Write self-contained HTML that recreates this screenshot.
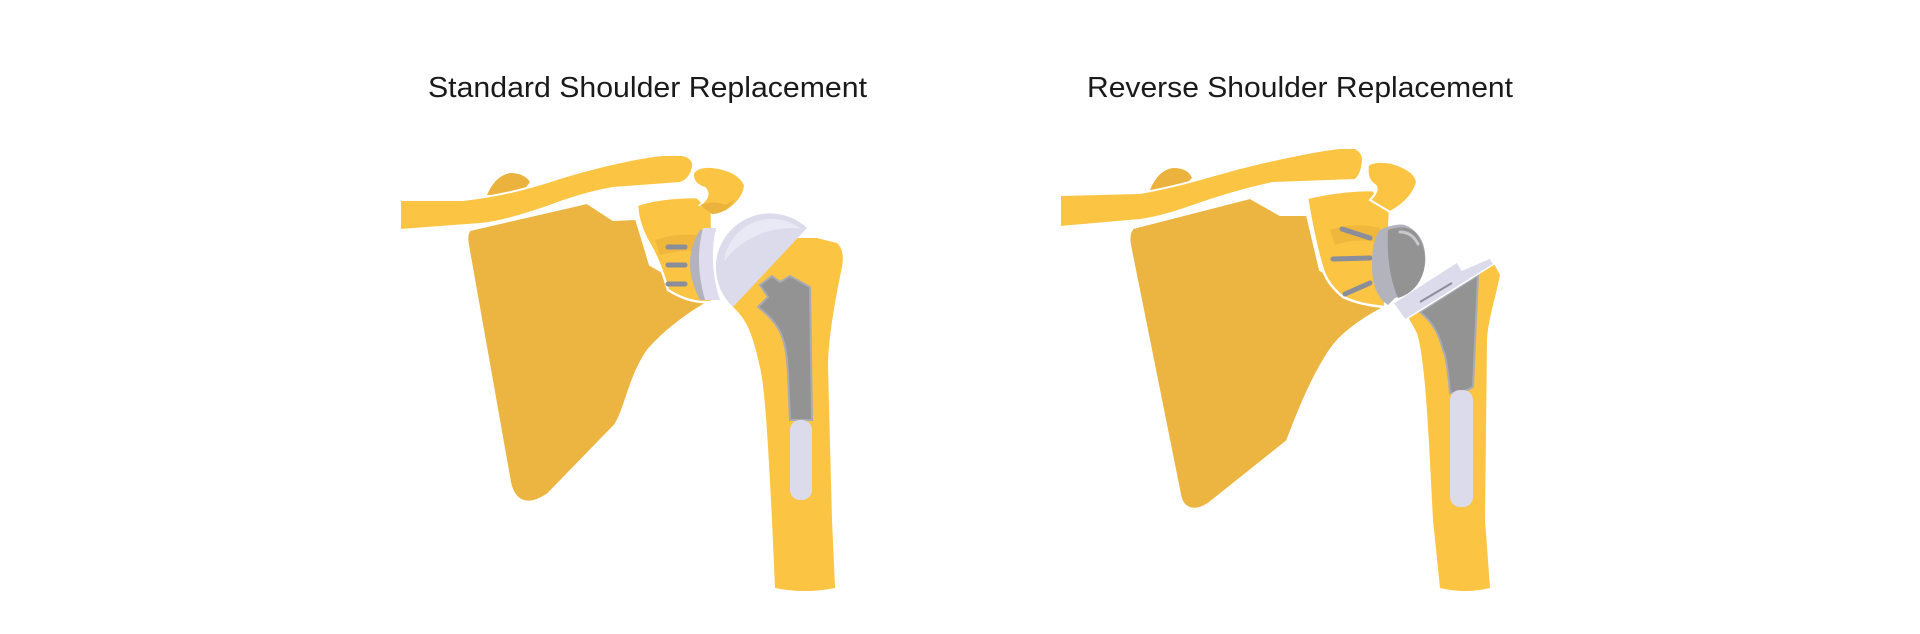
<!DOCTYPE html>
<html><head><meta charset="utf-8"><style>
html,body{margin:0;padding:0;background:#fff;}
svg{display:block;}
text{font-family:"Liberation Sans",sans-serif;fill:#1a1a1a;}
</style></head><body>
<svg width="1920" height="634" viewBox="0 0 1920 634" xmlns="http://www.w3.org/2000/svg">
<rect width="1920" height="634" fill="#fff"/>
<text x="428" y="97" font-size="29" textLength="439" lengthAdjust="spacingAndGlyphs">Standard Shoulder Replacement</text>
<text x="1087" y="97" font-size="29" textLength="426" lengthAdjust="spacingAndGlyphs">Reverse Shoulder Replacement</text>

<!-- ========== LEFT PANEL ========== -->
<path d="M487,195 Q495,176 510,173 Q524,173 530,182 L520,195 Z" fill="#ebb23d"/>
<path d="M470,230 L587,203 L613,220 L636,219 L650,265 L712,300 C690,312 665,330 648,350 C630,375 625,410 615,425 L548,494 C528,508 514,502 510,482 L468,245 Q466,234 470,230 Z" fill="#ecb440" stroke="#fff" stroke-width="2"/>
<path d="M637,205 Q660,197 697,197 L712,212 L712,302 Q690,304 668,290 Q660,262 650,245 Q638,225 637,205 Z" fill="#fbc442" stroke="#fff" stroke-width="2.5"/>
<path d="M655,240 Q680,232 705,236 L705,250 Q680,250 660,255 Z" fill="#eeb43c" opacity="0.8"/>
<path d="M693,173 Q698,166 712,167 Q738,170 745,185 Q744,200 725,212 L700,205 Q712,196 705,188 Q692,184 693,173 Z" fill="#fbc442" stroke="#fff" stroke-width="2"/>
<path d="M700,205 Q715,200 725,205 L735,200 Q725,214 712,214 Z" fill="#ebb23d"/>
<path d="M400,200 L463,200 C500,196 530,188 563,177 C600,166 640,157 663,155 L682,155 Q694,157 693,167 Q690,180 680,183 L613,188 C590,192 570,198 547,207 C520,216 500,222 480,224 L400,230 Z" fill="#fbc442" stroke="#fff" stroke-width="2"/>
<g stroke="#8a8d9a" stroke-width="5" stroke-linecap="round">
<line x1="668" y1="247" x2="685" y2="247"/><line x1="668" y1="265" x2="685" y2="265"/><line x1="668" y1="284" x2="685" y2="284"/>
</g>
<path d="M700,230 Q680,262 700,300 L714,300 Q700,262 716,230 Z" fill="#b2b3bd"/>
<path d="M703,228 L716,228 Q708,262 720,300 L705,300 Q694,262 703,228 Z" fill="#dedcee"/>
<!-- humerus -->
<path d="M733,307 Q716,290 718,267 L760,238 L817,238 L837,243 Q845,250 842,267 C835,300 828,340 828,367 L832,520 L835,588 Q805,594 775,588 L772,520 C768,440 765,390 760,367 C752,330 745,318 733,307 Z" fill="#fbc442"/>
<!-- dome -->
<path d="M733,307 A54,54 0 0 1 807,228 Z" fill="#dcdbec"/>
<path d="M724,262 A48,48 0 0 1 800,228 L806,229 Q780,226 760,234 Q735,245 724,262 Z" fill="#e9e8f5"/>
<path d="M760,285 L772,276 L780,282 L790,276 L810,287 L812,420 L790,420 L788,373 C786,340 782,325 758,307 L768,297 Z" fill="#939393" stroke="#a8aab5" stroke-width="2"/>
<rect x="790" y="420" width="22" height="80" rx="10" fill="#dcdbec"/>

<!-- ========== RIGHT PANEL ========== -->
<path d="M1150,190 Q1158,170 1173,168 Q1188,168 1192,178 L1180,190 Z" fill="#ebb23d"/>
<path d="M1133,228 L1250,198 L1280,215 L1307,215 L1320,270 L1383,308 C1360,320 1340,335 1330,350 C1310,380 1295,420 1287,441 L1208,504 C1192,514 1182,507 1180,494 L1130,245 Q1128,234 1133,228 Z" fill="#ecb440" stroke="#fff" stroke-width="2"/>
<path d="M1307,198 Q1340,190 1373,190 L1390,212 L1385,307 Q1360,305 1343,297 Q1328,285 1323,270 Q1315,245 1307,198 Z" fill="#fbc442" stroke="#fff" stroke-width="2.5"/>
<path d="M1330,230 Q1355,222 1380,228 L1378,242 Q1355,238 1335,245 Z" fill="#eeb43c" opacity="0.8"/>
<path d="M1368,165 Q1375,160 1392,163 Q1415,170 1417,182 Q1412,200 1390,212 L1370,200 Q1380,190 1375,185 Q1366,180 1368,165 Z" fill="#fbc442" stroke="#fff" stroke-width="2"/>
<path d="M1060,195 L1140,193 C1180,186 1210,176 1240,168 C1280,158 1320,150 1340,148 L1355,148 Q1363,152 1363,160 Q1362,175 1355,180 L1273,183 C1240,190 1215,198 1190,207 C1170,214 1155,218 1140,220 L1060,227 Z" fill="#fbc442" stroke="#fff" stroke-width="2"/>
<g stroke="#8a8d9a" stroke-width="5" stroke-linecap="round">
<line x1="1342" y1="229" x2="1370" y2="238"/><line x1="1333" y1="259" x2="1370" y2="258"/><line x1="1345" y1="294" x2="1370" y2="283"/>
</g>
<path d="M1407,315 L1493,262 L1500,275 C1495,300 1488,320 1487,340 L1485,520 L1490,588 Q1465,594 1440,588 L1433,520 C1428,420 1425,360 1417,333 Z" fill="#fbc442"/>
<path d="M1420,312 L1478,275 L1473,387 Q1462,394 1450,393 C1448,370 1446,355 1443,350 C1438,330 1430,320 1420,312 Z" fill="#939393" stroke="#a8aab5" stroke-width="2"/>
<rect x="1450" y="390" width="23" height="117" rx="10" fill="#dcdbec"/>
<path d="M1393,303 L1457,262 L1462,270 L1490,258 L1494,264 L1405,320 Z" fill="#dcdbec" stroke="#fff" stroke-width="1.5"/>
<line x1="1420" y1="302" x2="1452" y2="283" stroke="#8a8d9a" stroke-width="2"/>
<path d="M1380,230 Q1395,223 1405,225 Q1428,235 1425,265 Q1420,290 1395,298 L1388,305 Q1372,295 1372,265 Q1372,240 1380,230 Z" fill="#b2b3bd"/>
<path d="M1388,230 Q1405,224 1415,232 Q1428,248 1424,270 Q1418,292 1398,298 Q1386,270 1388,230 Z" fill="#939393"/>
<path d="M1400,232 Q1412,232 1418,244" stroke="#c7c7cc" stroke-width="3" fill="none" stroke-linecap="round"/>
</svg>
</body></html>
